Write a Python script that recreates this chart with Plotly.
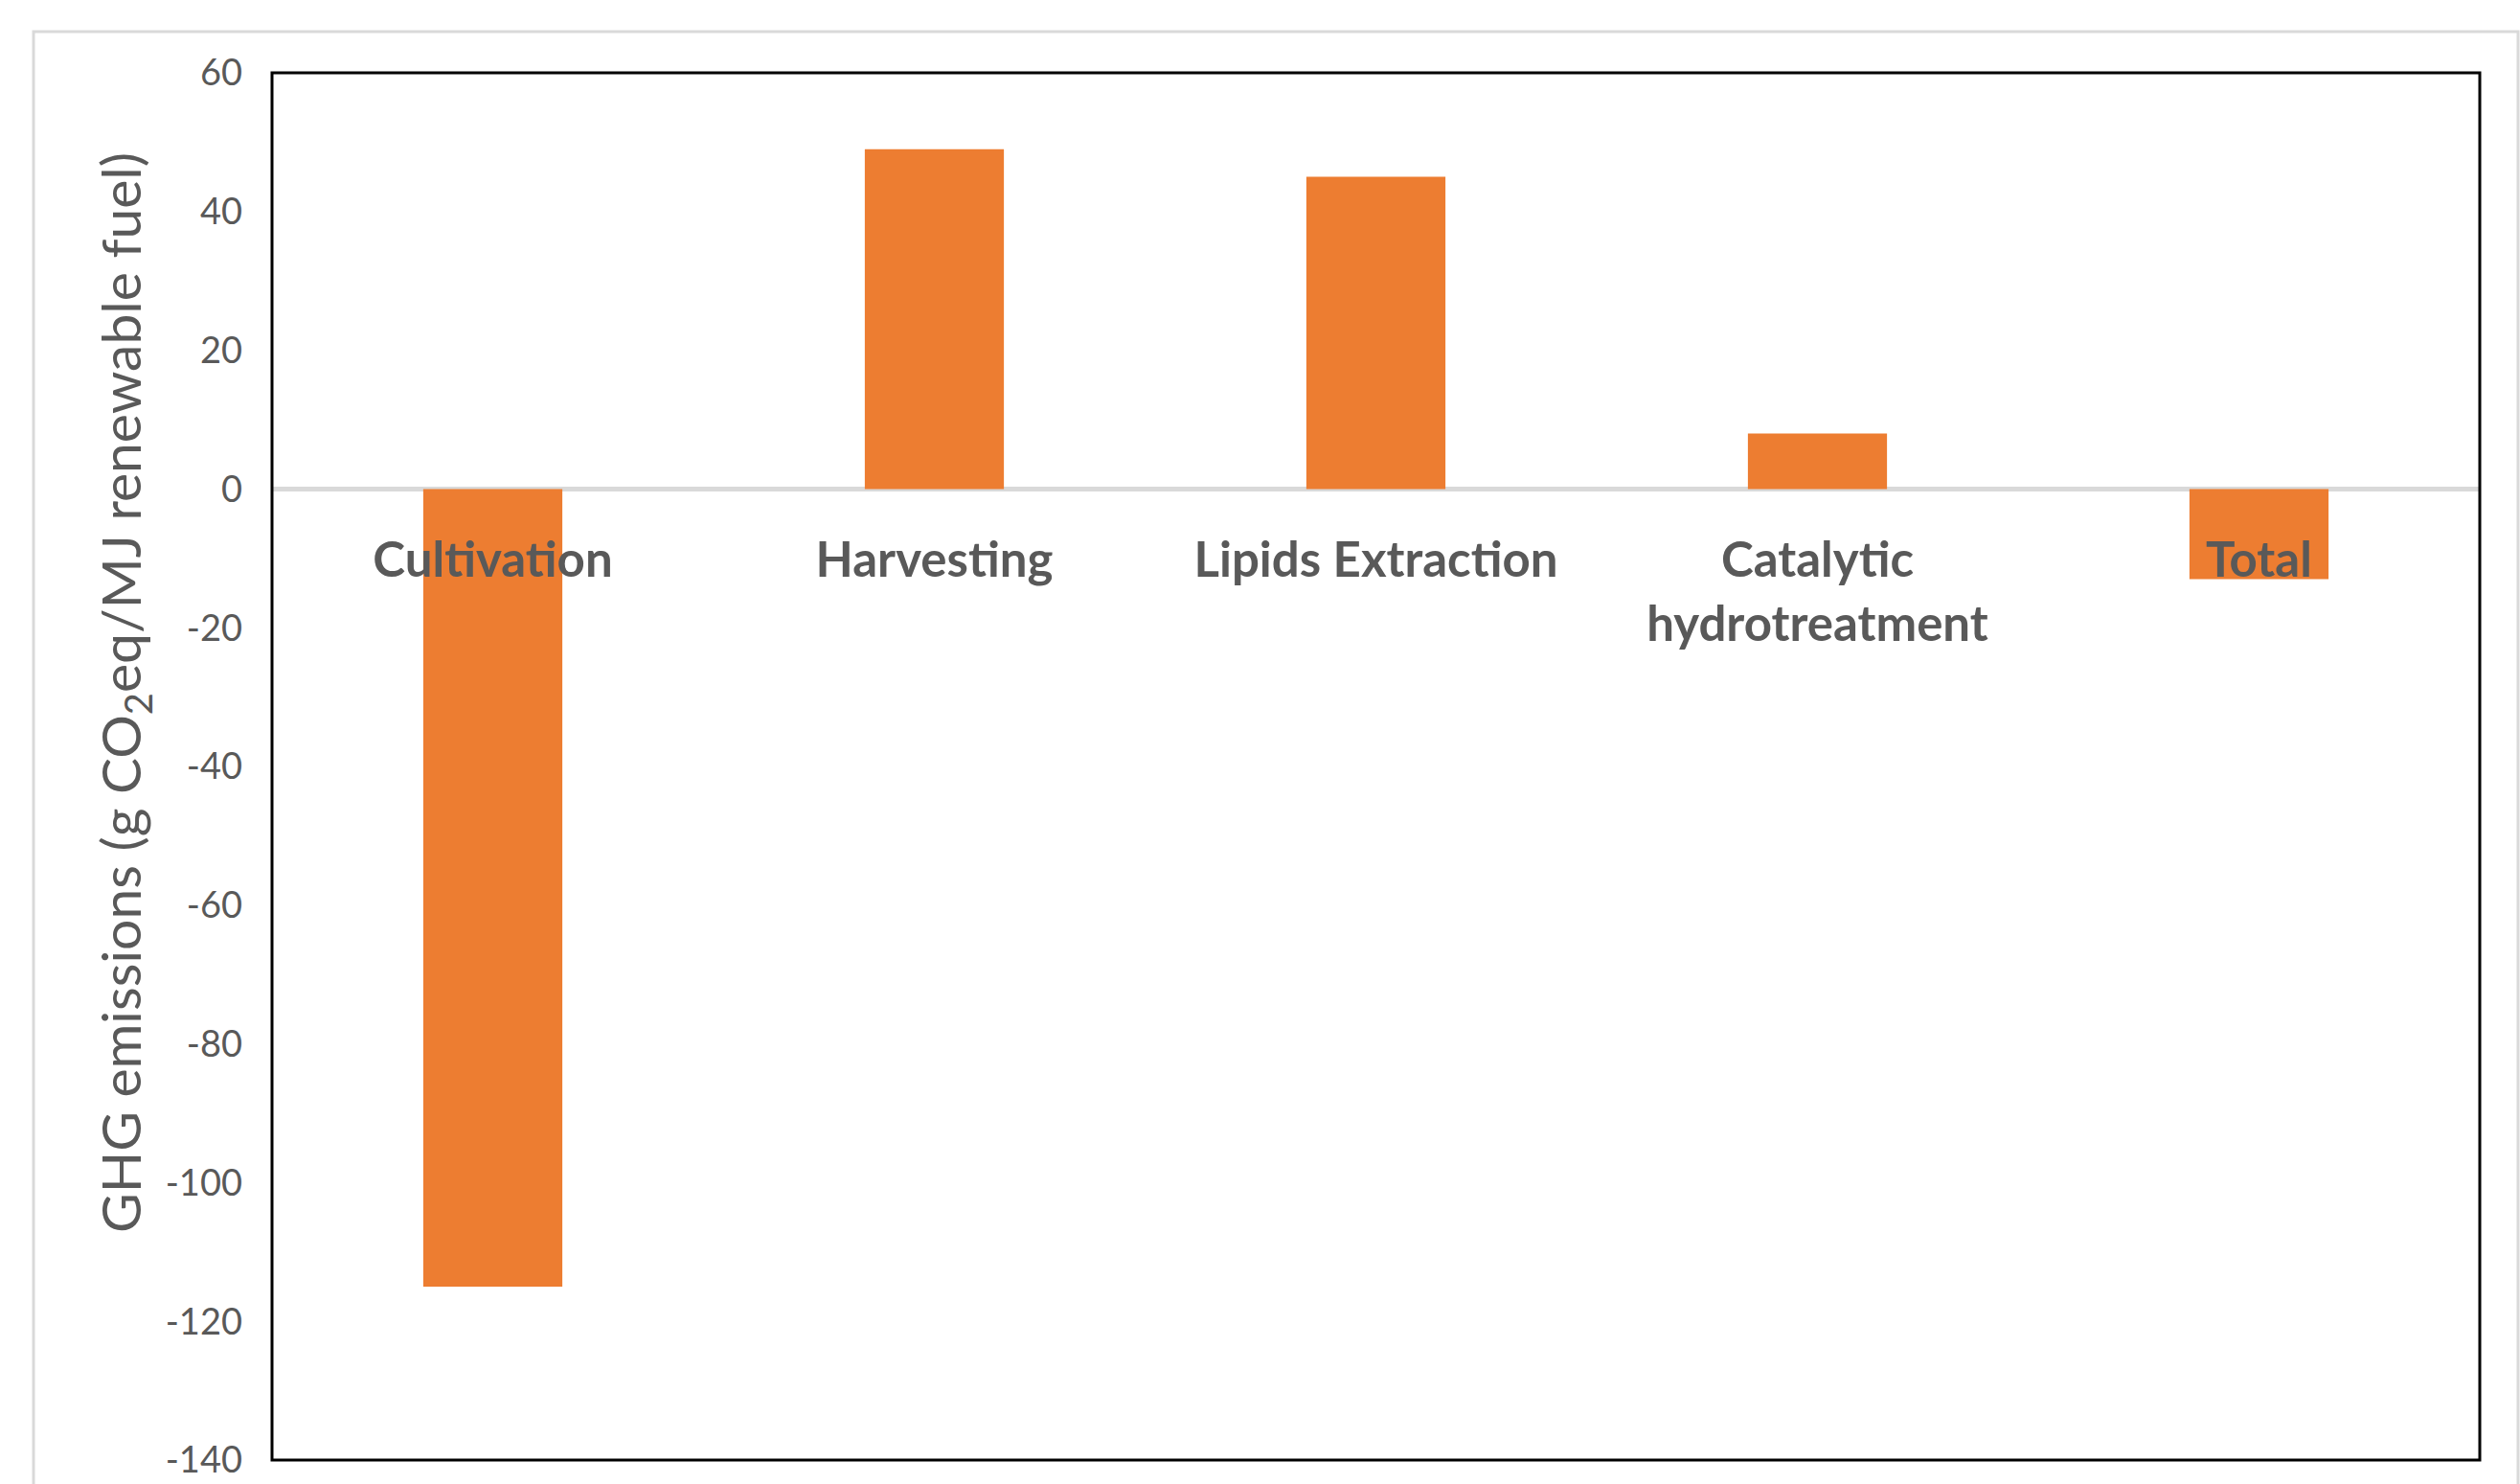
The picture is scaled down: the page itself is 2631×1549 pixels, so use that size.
import plotly.graph_objects as go

categories = ["Cultivation", "Harvesting", "Lipids Extraction", "Catalytic<br>hydrotreatment", "Total"]
emissions = [-115, 49, 45, 8, -13]
y_ticks = [60, 40, 20, 0, -20, -40, -60, -80, -100, -120, -140]
y_tick_labels = [str(v) for v in y_ticks]
y_title = "GHG emissions (g CO<sub>2</sub>eq/MJ renewable fuel)"

W, H = 2631, 1549
L, R, T, B = 284, 42, 76, 25
pw, ph = W - L - R, H - T - B

fig = go.Figure(go.Bar(
    x=categories, y=emissions,
    marker=dict(color="#ED7D31", line=dict(width=0)),
))

fig.update_layout(
    width=W, height=H,
    margin=dict(l=L, r=R, t=T, b=B, autoexpand=False),
    paper_bgcolor="white", plot_bgcolor="white",
    bargap=0.685,
    showlegend=False,
    font=dict(family="Lato", color="#595959"),
)

fig.update_yaxes(
    range=[-140, 60], tickvals=y_ticks, ticktext=y_tick_labels, ticks="",
    showgrid=False, showline=False,
    zeroline=True, zerolinecolor="#d9d9d9", zerolinewidth=5,
    tickfont=dict(family="Lato", size=38, color="#595959"),
    ticklabelstandoff=30,
)

fig.update_xaxes(
    anchor="free", position=0.7, showline=False, ticks="",
    showgrid=False, zeroline=False,
    tickfont=dict(family="Lato", size=51, color="#595959", weight="bold"),
    ticklabelstandoff=40,
)

# y-axis title (centred on the chart area like the original)
fig.add_annotation(text=y_title, textangle=-90, showarrow=False,
                   xref="paper", yref="paper",
                   x=(129 - L) / pw, y=(H - B - 723) / ph,
                   xanchor="center", yanchor="middle",
                   font=dict(family="Lato", size=57, color="#595959"))

# plot frame
fig.add_shape(type="rect", xref="x domain", yref="y domain", x0=0, x1=1, y0=0, y1=1,
              line=dict(color="black", width=3), layer="above")
# outer chart border
fig.add_shape(type="rect", xref="paper", yref="paper",
              x0=(35 - L) / pw, x1=(2629 - L) / pw,
              y0=(H - B - 1560) / ph, y1=(H - B - 33) / ph,
              line=dict(color="#d9d9d9", width=3), layer="below")

fig.write_html("out.html")
